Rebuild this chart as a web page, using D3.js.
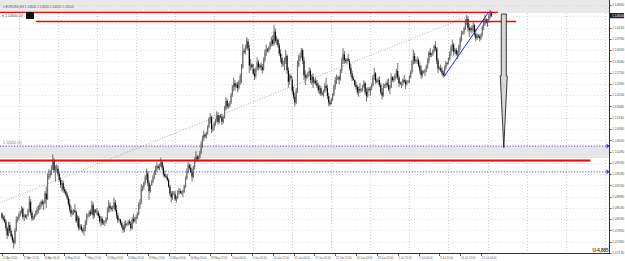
<!DOCTYPE html>
<html><head><meta charset="utf-8">
<script src="https://cdn.jsdelivr.net/npm/d3@7"></script>
<style>
html,body{margin:0;padding:0;background:#fff;overflow:hidden}
svg{display:block;font-family:"Liberation Sans","DejaVu Sans",sans-serif}
</style></head>
<body><svg id="chart" width="625" height="261"></svg>
<script>
// ---------- DATA (EURUSD, H4, from 22 Apr 2020 20:00) ----------
const symbolTitle = "EURUSD,H4";
const headerQuote = ["1.14600", "1.14630", "1.14450", "1.14500"];
const currentPrice = 1.1450;

const timeLabels = ["22 Apr 2020","27 Apr 12:00","30 Apr 04:00","4 May 20:00","7 May 12:00","12 May 04:00",
  "14 May 20:00","19 May 12:00","22 May 04:00","26 May 20:00","29 May 12:00","3 Jun 04:00","5 Jun 20:00",
  "10 Jun 12:00","15 Jun 04:00","17 Jun 20:00","22 Jun 12:00","25 Jun 04:00","29 Jun 20:00","2 Jul 12:00",
  "7 Jul 04:00","9 Jul 20:00","14 Jul 12:00","17 Jul 04:00"];
const barsPerLabel = 16;
const weekStartBars = [13,43,73,103,133,163,193,223,253,283,313,343,373,403,433,463];

const priceTicks = [1.07130,1.07480,1.07830,1.08180,1.08530,1.08880,1.09230,1.09580,1.09930,1.10280,
  1.10630,1.10980,1.11330,1.11680,1.12030,1.12380,1.12730,1.13080,1.13430,1.13780,1.14130,1.14480,1.14830];

const opens = [
 1.0835,
 1.0823,1.0818,1.0810,1.0790,1.0768,1.0800,
 1.0781,1.0765,1.0752,1.0745,1.0783,1.0815,
 1.0822,1.0832,1.0840,1.0851,1.0825,1.0829,
 1.0826,1.0830,1.0845,1.0872,1.0838,1.0820,
 1.0823,1.0830,1.0842,1.0848,1.0855,1.0861,
 1.0872,1.0866,1.0870,1.0898,1.0880,1.0948,
 1.0953,1.0962,1.0978,1.0998,1.0970,1.0975,
 1.0975,1.0958,1.0940,1.0925,1.0930,1.0910,
 1.0905,1.0895,1.0884,1.0866,1.0848,1.0835,
 1.0838,1.0845,1.0840,1.0812,1.0822,1.0790,
 1.0796,1.0785,1.0781,1.0790,1.0808,1.0828,
 1.0830,1.0840,1.0835,1.0862,1.0830,1.0845,
 1.0835,1.0838,1.0828,1.0812,1.0820,1.0805,
 1.0808,1.0810,1.0820,1.0848,1.0860,1.0852,
 1.0850,1.0855,1.0870,1.0846,1.0830,1.0815,
 1.0817,1.0806,1.0795,1.0785,1.0802,1.0800,
 1.0804,1.0810,1.0805,1.0790,1.0818,1.0812,
 1.0820,1.0825,1.0835,1.0862,1.0870,1.0912,
 1.0918,1.0930,1.0948,1.0960,1.0930,1.0905,
 1.0923,1.0935,1.0950,1.0962,1.0975,1.0982,
 1.0977,1.0985,1.0995,1.0978,1.0958,1.0952,
 1.0949,1.0940,1.0920,1.0898,1.0885,1.0898,
 1.0895,1.0880,1.0885,1.0902,1.0905,1.0900,
 1.0900,1.0905,1.0920,1.0945,1.0968,1.0985,
 1.0978,1.0965,1.0950,1.0980,1.1002,1.1012,
 1.1005,1.1010,1.1025,1.1052,1.1068,1.1080,
 1.1075,1.1086,1.1105,1.1128,1.1135,1.1098,
 1.1105,1.1115,1.1125,1.1140,1.1120,1.1138,
 1.1135,1.1120,1.1135,1.1162,1.1185,1.1168,
 1.1170,1.1180,1.1205,1.1228,1.1240,1.1230,
 1.1235,1.1225,1.1245,1.1262,1.1290,1.1340,
 1.1337,1.1350,1.1370,1.1348,1.1295,1.1298,
 1.1285,1.1270,1.1262,1.1285,1.1305,1.1290,
 1.1295,1.1290,1.1282,1.1312,1.1335,1.1345,
 1.1342,1.1350,1.1365,1.1375,1.1362,1.1400,
 1.1372,1.1375,1.1358,1.1332,1.1318,1.1300,
 1.1300,1.1310,1.1325,1.1280,1.1245,1.1262,
 1.1250,1.1215,1.1198,1.1180,1.1215,1.1295,
 1.1319,1.1325,1.1342,1.1310,1.1265,1.1258,
 1.1261,1.1270,1.1278,1.1250,1.1260,1.1242,
 1.1248,1.1240,1.1232,1.1218,1.1225,1.1208,
 1.1205,1.1215,1.1232,1.1225,1.1200,1.1180,
 1.1180,1.1190,1.1205,1.1228,1.1250,1.1255,
 1.1258,1.1252,1.1280,1.1310,1.1330,1.1312,
 1.1309,1.1315,1.1310,1.1288,1.1270,1.1255,
 1.1250,1.1235,1.1228,1.1212,1.1222,1.1218,
 1.1220,1.1230,1.1240,1.1212,1.1200,1.1222,
 1.1215,1.1225,1.1235,1.1258,1.1270,1.1248,
 1.1245,1.1250,1.1235,1.1212,1.1202,1.1230,
 1.1233,1.1240,1.1235,1.1222,1.1228,1.1258,
 1.1250,1.1255,1.1265,1.1278,1.1258,1.1240,
 1.1238,1.1240,1.1250,1.1245,1.1238,1.1245,
 1.1245,1.1260,1.1275,1.1305,1.1325,1.1310,
 1.1308,1.1312,1.1295,1.1280,1.1265,1.1276,
 1.1274,1.1280,1.1292,1.1310,1.1335,1.1328,
 1.1330,1.1340,1.1355,1.1348,1.1310,1.1285,
 1.1287,1.1280,1.1272,1.1265,1.1288,1.1302,
 1.1305,1.1315,1.1335,1.1352,1.1360,1.1338,
 1.1343,1.1330,1.1335,1.1355,1.1378,1.1395,
 1.1398,1.1410,1.1432,1.1440,1.1412,1.1405,
 1.1410,1.1405,1.1420,1.1392,1.1380,1.1388,
 1.1385,1.1380,1.1390,1.1415,1.1425,1.1438,
 1.1420,1.1435,1.1448,1.1460];

const highs = [
 1.0840,
 1.0830,1.0829,1.0817,1.0795,1.0810,1.0808,
 1.0789,1.0772,1.0760,1.0790,1.0827,1.0826,
 1.0838,1.0845,1.0859,1.0855,1.0835,1.0834,
 1.0833,1.0850,1.0890,1.0880,1.0848,1.0829,
 1.0834,1.0846,1.0857,1.0862,1.0870,1.0876,
 1.0880,1.0876,1.0905,1.0920,1.0960,1.0973,
 1.0970,1.0985,1.1019,1.1008,1.0985,1.0988,
 1.0985,1.0962,1.0948,1.0940,1.0938,1.0918,
 1.0912,1.0902,1.0890,1.0880,1.0860,1.0846,
 1.0850,1.0866,1.0845,1.0830,1.0828,1.0802,
 1.0803,1.0792,1.0800,1.0815,1.0836,1.0835,
 1.0845,1.0848,1.0875,1.0870,1.0850,1.0850,
 1.0852,1.0845,1.0835,1.0828,1.0826,1.0815,
 1.0815,1.0825,1.0855,1.0877,1.0870,1.0858,
 1.0860,1.0885,1.0878,1.0862,1.0838,1.0822,
 1.0819,1.0812,1.0800,1.0810,1.0815,1.0808,
 1.0815,1.0818,1.0812,1.0825,1.0835,1.0825,
 1.0830,1.0840,1.0870,1.0880,1.0927,1.0922,
 1.0935,1.0955,1.0975,1.0968,1.0938,1.0925,
 1.0940,1.0955,1.0970,1.0985,1.0995,1.0988,
 1.0990,1.1009,1.1002,1.0985,1.0970,1.0958,
 1.0958,1.0945,1.0925,1.0905,1.0905,1.0906,
 1.0905,1.0890,1.0908,1.0915,1.0912,1.0906,
 1.0910,1.0925,1.0950,1.0975,1.0996,1.0990,
 1.0988,1.0975,1.0985,1.1010,1.1029,1.1018,
 1.1015,1.1030,1.1060,1.1078,1.1092,1.1085,
 1.1090,1.1110,1.1135,1.1147,1.1140,1.1110,
 1.1120,1.1130,1.1153,1.1150,1.1142,1.1145,
 1.1145,1.1140,1.1170,1.1197,1.1192,1.1178,
 1.1185,1.1210,1.1235,1.1257,1.1250,1.1242,
 1.1245,1.1250,1.1270,1.1300,1.1361,1.1348,
 1.1360,1.1383,1.1378,1.1360,1.1315,1.1302,
 1.1300,1.1285,1.1290,1.1320,1.1312,1.1300,
 1.1305,1.1300,1.1320,1.1345,1.1360,1.1350,
 1.1355,1.1370,1.1385,1.1390,1.1422,1.1410,
 1.1387,1.1380,1.1365,1.1345,1.1330,1.1310,
 1.1320,1.1344,1.1330,1.1290,1.1270,1.1268,
 1.1258,1.1230,1.1210,1.1225,1.1310,1.1328,
 1.1335,1.1350,1.1348,1.1322,1.1280,1.1268,
 1.1275,1.1290,1.1285,1.1268,1.1270,1.1252,
 1.1258,1.1250,1.1240,1.1235,1.1232,1.1215,
 1.1220,1.1240,1.1257,1.1235,1.1210,1.1188,
 1.1195,1.1210,1.1235,1.1260,1.1267,1.1262,
 1.1265,1.1285,1.1320,1.1349,1.1340,1.1318,
 1.1320,1.1331,1.1315,1.1300,1.1278,1.1262,
 1.1252,1.1245,1.1235,1.1230,1.1240,1.1225,
 1.1235,1.1249,1.1245,1.1225,1.1228,1.1228,
 1.1230,1.1240,1.1265,1.1288,1.1275,1.1255,
 1.1258,1.1262,1.1242,1.1225,1.1240,1.1238,
 1.1245,1.1252,1.1255,1.1235,1.1270,1.1262,
 1.1262,1.1270,1.1285,1.1303,1.1265,1.1246,
 1.1245,1.1255,1.1266,1.1252,1.1250,1.1250,
 1.1265,1.1280,1.1312,1.1345,1.1335,1.1315,
 1.1323,1.1318,1.1305,1.1295,1.1282,1.1280,
 1.1285,1.1298,1.1318,1.1340,1.1350,1.1335,
 1.1345,1.1360,1.1371,1.1352,1.1318,1.1292,
 1.1298,1.1290,1.1280,1.1295,1.1309,1.1306,
 1.1320,1.1340,1.1360,1.1375,1.1365,1.1348,
 1.1350,1.1342,1.1360,1.1385,1.1403,1.1402,
 1.1415,1.1440,1.1452,1.1448,1.1425,1.1415,
 1.1420,1.1430,1.1425,1.1410,1.1395,1.1392,
 1.1392,1.1395,1.1420,1.1440,1.1453,1.1442,
 1.1440,1.1455,1.1468,1.1463];

const lows = [
 1.0818,
 1.0812,1.0806,1.0782,1.0757,1.0765,1.0775,
 1.0760,1.0745,1.0727,1.0740,1.0780,1.0808,
 1.0815,1.0826,1.0836,1.0818,1.0812,1.0821,
 1.0818,1.0826,1.0840,1.0830,1.0812,1.0814,
 1.0818,1.0826,1.0832,1.0836,1.0846,1.0850,
 1.0860,1.0846,1.0865,1.0852,1.0878,1.0940,
 1.0945,1.0955,1.0970,1.0962,1.0935,1.0968,
 1.0950,1.0935,1.0915,1.0905,1.0900,1.0898,
 1.0890,1.0878,1.0858,1.0840,1.0825,1.0830,
 1.0832,1.0838,1.0806,1.0795,1.0782,1.0785,
 1.0780,1.0775,1.0767,1.0780,1.0800,1.0820,
 1.0825,1.0828,1.0832,1.0819,1.0822,1.0836,
 1.0830,1.0822,1.0805,1.0795,1.0800,1.0800,
 1.0797,1.0805,1.0815,1.0838,1.0840,1.0845,
 1.0842,1.0850,1.0840,1.0820,1.0805,1.0810,
 1.0800,1.0790,1.0775,1.0778,1.0790,1.0796,
 1.0798,1.0800,1.0782,1.0786,1.0805,1.0808,
 1.0805,1.0818,1.0830,1.0850,1.0865,1.0905,
 1.0910,1.0925,1.0940,1.0920,1.0878,1.0900,
 1.0922,1.0930,1.0942,1.0955,1.0966,1.0972,
 1.0970,1.0980,1.0970,1.0950,1.0946,1.0945,
 1.0935,1.0915,1.0890,1.0870,1.0878,1.0892,
 1.0875,1.0870,1.0880,1.0895,1.0896,1.0894,
 1.0887,1.0900,1.0915,1.0940,1.0960,1.0972,
 1.0960,1.0935,1.0945,1.0972,1.0995,1.0998,
 1.0996,1.1005,1.1020,1.1040,1.1060,1.1070,
 1.1068,1.1080,1.1100,1.1115,1.1085,1.1090,
 1.1095,1.1108,1.1118,1.1112,1.1115,1.1130,
 1.1110,1.1115,1.1130,1.1155,1.1160,1.1162,
 1.1165,1.1175,1.1198,1.1215,1.1218,1.1225,
 1.1212,1.1220,1.1235,1.1240,1.1285,1.1330,
 1.1330,1.1345,1.1340,1.1272,1.1280,1.1285,
 1.1265,1.1250,1.1255,1.1280,1.1280,1.1285,
 1.1280,1.1270,1.1278,1.1305,1.1325,1.1336,
 1.1335,1.1345,1.1355,1.1355,1.1358,1.1365,
 1.1360,1.1350,1.1325,1.1305,1.1290,1.1292,
 1.1280,1.1300,1.1270,1.1227,1.1235,1.1250,
 1.1205,1.1190,1.1168,1.1175,1.1210,1.1290,
 1.1310,1.1318,1.1300,1.1250,1.1234,1.1252,
 1.1255,1.1262,1.1240,1.1235,1.1225,1.1238,
 1.1235,1.1225,1.1210,1.1205,1.1200,1.1202,
 1.1198,1.1210,1.1215,1.1190,1.1168,1.1170,
 1.1174,1.1185,1.1200,1.1220,1.1238,1.1250,
 1.1237,1.1248,1.1272,1.1300,1.1300,1.1302,
 1.1300,1.1305,1.1280,1.1260,1.1247,1.1248,
 1.1230,1.1220,1.1205,1.1198,1.1210,1.1212,
 1.1215,1.1225,1.1205,1.1183,1.1195,1.1214,
 1.1201,1.1218,1.1230,1.1250,1.1238,1.1240,
 1.1235,1.1228,1.1205,1.1190,1.1198,1.1225,
 1.1225,1.1228,1.1215,1.1206,1.1225,1.1245,
 1.1242,1.1248,1.1255,1.1250,1.1228,1.1234,
 1.1225,1.1232,1.1240,1.1222,1.1232,1.1240,
 1.1240,1.1255,1.1270,1.1298,1.1300,1.1302,
 1.1300,1.1290,1.1270,1.1253,1.1258,1.1270,
 1.1262,1.1275,1.1285,1.1302,1.1320,1.1322,
 1.1325,1.1335,1.1340,1.1300,1.1272,1.1280,
 1.1275,1.1265,1.1257,1.1260,1.1282,1.1295,
 1.1300,1.1310,1.1325,1.1340,1.1325,1.1332,
 1.1325,1.1316,1.1328,1.1345,1.1370,1.1390,
 1.1392,1.1405,1.1420,1.1400,1.1384,1.1400,
 1.1395,1.1398,1.1385,1.1370,1.1375,1.1380,
 1.1370,1.1375,1.1385,1.1405,1.1418,1.1425,
 1.1415,1.1428,1.1440,1.1445];

const closes = [
 1.0823,
 1.0818,1.0810,1.0790,1.0768,1.0800,1.0781,
 1.0765,1.0752,1.0745,1.0783,1.0815,1.0821,
 1.0832,1.0840,1.0851,1.0825,1.0829,1.0826,
 1.0830,1.0845,1.0872,1.0838,1.0820,1.0823,
 1.0830,1.0842,1.0848,1.0855,1.0861,1.0872,
 1.0866,1.0870,1.0898,1.0880,1.0948,1.0953,
 1.0962,1.0978,1.0998,1.0970,1.0975,1.0980,
 1.0958,1.0940,1.0925,1.0930,1.0910,1.0905,
 1.0895,1.0884,1.0866,1.0848,1.0835,1.0838,
 1.0845,1.0840,1.0812,1.0822,1.0790,1.0796,
 1.0785,1.0781,1.0790,1.0808,1.0828,1.0830,
 1.0840,1.0835,1.0862,1.0830,1.0845,1.0840,
 1.0838,1.0828,1.0812,1.0820,1.0805,1.0808,
 1.0810,1.0820,1.0848,1.0860,1.0852,1.0850,
 1.0855,1.0870,1.0846,1.0830,1.0815,1.0817,
 1.0806,1.0795,1.0785,1.0802,1.0800,1.0804,
 1.0810,1.0805,1.0790,1.0818,1.0812,1.0820,
 1.0825,1.0835,1.0862,1.0870,1.0912,1.0918,
 1.0930,1.0948,1.0960,1.0930,1.0905,1.0923,
 1.0935,1.0950,1.0962,1.0975,1.0982,1.0977,
 1.0985,1.0995,1.0978,1.0958,1.0952,1.0949,
 1.0940,1.0920,1.0898,1.0885,1.0898,1.0900,
 1.0880,1.0885,1.0902,1.0905,1.0900,1.0900,
 1.0905,1.0920,1.0945,1.0968,1.0985,1.0978,
 1.0965,1.0950,1.0980,1.1002,1.1012,1.1005,
 1.1010,1.1025,1.1052,1.1068,1.1080,1.1075,
 1.1086,1.1105,1.1128,1.1135,1.1098,1.1098,
 1.1115,1.1125,1.1140,1.1120,1.1138,1.1135,
 1.1120,1.1135,1.1162,1.1185,1.1168,1.1170,
 1.1180,1.1205,1.1228,1.1240,1.1230,1.1235,
 1.1225,1.1245,1.1262,1.1290,1.1340,1.1337,
 1.1350,1.1370,1.1348,1.1295,1.1298,1.1290,
 1.1270,1.1262,1.1285,1.1305,1.1290,1.1295,
 1.1290,1.1282,1.1312,1.1335,1.1345,1.1342,
 1.1350,1.1365,1.1375,1.1362,1.1400,1.1372,
 1.1375,1.1358,1.1332,1.1318,1.1300,1.1300,
 1.1310,1.1325,1.1280,1.1245,1.1262,1.1256,
 1.1215,1.1198,1.1180,1.1215,1.1295,1.1319,
 1.1325,1.1342,1.1310,1.1265,1.1258,1.1261,
 1.1270,1.1278,1.1250,1.1260,1.1242,1.1248,
 1.1240,1.1232,1.1218,1.1225,1.1208,1.1205,
 1.1215,1.1232,1.1225,1.1200,1.1180,1.1175,
 1.1190,1.1205,1.1228,1.1250,1.1255,1.1258,
 1.1252,1.1280,1.1310,1.1330,1.1312,1.1309,
 1.1315,1.1310,1.1288,1.1270,1.1255,1.1250,
 1.1235,1.1228,1.1212,1.1222,1.1218,1.1220,
 1.1230,1.1240,1.1212,1.1200,1.1222,1.1219,
 1.1225,1.1235,1.1258,1.1270,1.1248,1.1245,
 1.1250,1.1235,1.1212,1.1202,1.1230,1.1233,
 1.1240,1.1235,1.1222,1.1228,1.1258,1.1250,
 1.1255,1.1265,1.1278,1.1258,1.1240,1.1238,
 1.1240,1.1250,1.1245,1.1238,1.1245,1.1247,
 1.1260,1.1275,1.1305,1.1325,1.1310,1.1308,
 1.1312,1.1295,1.1280,1.1265,1.1276,1.1274,
 1.1280,1.1292,1.1310,1.1335,1.1328,1.1330,
 1.1340,1.1355,1.1348,1.1310,1.1285,1.1287,
 1.1280,1.1272,1.1265,1.1288,1.1302,1.1300,
 1.1315,1.1335,1.1352,1.1360,1.1338,1.1343,
 1.1330,1.1335,1.1355,1.1378,1.1395,1.1398,
 1.1410,1.1432,1.1440,1.1412,1.1405,1.1410,
 1.1405,1.1420,1.1392,1.1380,1.1388,1.1385,
 1.1380,1.1390,1.1415,1.1425,1.1438,1.1428,
 1.1435,1.1448,1.1460,1.1450];

// Drawn objects (bar index, price)
const redLevels = [ {price:1.1460, from:-2, to:381}, {price:1.1432, from:26, to:395}, {price:1.1000, from:-2, to:452} ];
const blueDottedLevels = [1.1045, 1.0965];
const grayZone = [1.1008, 1.1045];
const blueTrend = [ {bar:340, price:1.1263}, {bar:374, price:1.1462} ];
const dottedTrend = [ {bar:-2, price:1.0868}, {bar:357, price:1.1446} ];
const downArrow = {bar:385.5, top:1.1455, neck:1.1263, tip:1.1040};
const levelTexts = [ {price:1.1045, text:"1.10450 (0)"} ];

// ---------- DRAWING ----------
const svg = d3.select("#chart");
const plotRight = 609.5, plotBottom = 253.5;
const x = d3.scaleLinear().domain([0, 368]).range([2, 481]);
const y = d3.scaleLinear().domain([1.07130, 1.14830]).range([253, 5]);
const fmt = d3.format(".5f");

// header band
svg.append("rect").attr("x",0).attr("y",0).attr("width",plotRight).attr("height",13).attr("fill","#e9e9e9");

// grid
const grid = svg.append("g");
grid.selectAll("line.h").data(priceTicks).join("line")
  .attr("x1",0).attr("x2",plotRight).attr("y1",d=>Math.round(y(d))+0.5).attr("y2",d=>Math.round(y(d))+0.5)
  .attr("stroke","#c8c8d8").attr("stroke-width",0.6).attr("stroke-dasharray","1,2");
grid.selectAll("line.v").data(weekStartBars.filter(b=>x(b)<plotRight)).join("line")
  .attr("x1",d=>Math.round(x(d))+0.5).attr("x2",d=>Math.round(x(d))+0.5).attr("y1",13).attr("y2",plotBottom)
  .attr("stroke","#b8b8c8").attr("stroke-width",0.7).attr("stroke-dasharray","1,2");

// gray zone
svg.append("rect").attr("x",0).attr("width",plotRight)
  .attr("y",y(grayZone[1])).attr("height",y(grayZone[0])-y(grayZone[1])).attr("fill","#e6e6e6");

// blue dotted levels
blueDottedLevels.forEach(p=>{
  svg.append("line").attr("x1",0).attr("x2",plotRight).attr("y1",y(p)).attr("y2",y(p))
    .attr("stroke","#3a3aff").attr("stroke-width",0.9).attr("stroke-dasharray","1.2,1.6");
  svg.append("path").attr("d",`M${plotRight-3},${y(p)-2.5} L${plotRight},${y(p)} L${plotRight-3},${y(p)+2.5} Z`)
    .attr("fill","#3a3aff");
});
levelTexts.forEach(t=>{
  svg.append("text").attr("x",3).attr("y",y(t.price)-2).attr("font-size",3.6).attr("fill","#777").text(t.text);
});

// dotted trend line
svg.append("line").attr("x1",x(dottedTrend[0].bar)).attr("y1",y(dottedTrend[0].price))
  .attr("x2",x(dottedTrend[1].bar)).attr("y2",y(dottedTrend[1].price))
  .attr("stroke","#8c8c74").attr("stroke-width",0.7).attr("stroke-dasharray","1,1.5");

// candles
const bars = d3.range(closes.length).map(i=>({i, o:opens[i], h:highs[i], l:lows[i], c:closes[i]}));
const cg = svg.append("g");
cg.selectAll("line").data(bars).join("line")
  .attr("x1",d=>x(d.i)).attr("x2",d=>x(d.i)).attr("y1",d=>y(d.h)).attr("y2",d=>y(d.l))
  .attr("stroke","#111").attr("stroke-width",0.6);
cg.selectAll("rect").data(bars).join("rect")
  .attr("x",d=>x(d.i)-0.55).attr("width",1.1)
  .attr("y",d=>y(Math.max(d.o,d.c))).attr("height",d=>Math.max(0.5, Math.abs(y(d.o)-y(d.c))))
  .attr("fill",d=>d.c>=d.o ? "#6e6e6e" : "#000");

// red levels
redLevels.forEach((r,k)=>{
  svg.append("line").attr("x1",Math.max(0,x(r.from))).attr("x2",x(r.to)).attr("y1",y(r.price)).attr("y2",y(r.price))
    .attr("stroke","#ff0000").attr("stroke-width", k===2 ? 2 : 1.4);
});

// blue trend line
svg.append("line").attr("x1",x(blueTrend[0].bar)).attr("y1",y(blueTrend[0].price))
  .attr("x2",x(blueTrend[1].bar)).attr("y2",y(blueTrend[1].price))
  .attr("stroke","#2020ff").attr("stroke-width",1);

// big down arrow
const ax = x(downArrow.bar);
svg.append("path")
  .attr("d",`M${ax-2.5},${y(downArrow.top)} L${ax+2.5},${y(downArrow.top)} L${ax+2.5},${y(downArrow.neck)}
    L${ax+3.5},${y(downArrow.neck)} L${ax},${y(downArrow.tip)} L${ax-3.5},${y(downArrow.neck)} L${ax-2.5},${y(downArrow.neck)} Z`)
  .attr("fill","#d8d8d8").attr("stroke","#222").attr("stroke-width",0.9).attr("stroke-linejoin","round");

// header texts
svg.append("text").attr("x",3).attr("y",7.5).attr("font-size",3.2).attr("fill","#555")
  .text("\u25BE " + symbolTitle + "  " + headerQuote.join(" "));
svg.append("text").attr("x",2).attr("y",17).attr("font-size",3.6).attr("fill","#555")
  .text("\u25BE " + fmt(redLevels[0].price) + " (0)");
svg.append("rect").attr("x",26).attr("y",12).attr("width",8).attr("height",7).attr("fill","#111");

// axes
svg.append("line").attr("x1",plotRight).attr("x2",plotRight).attr("y1",0).attr("y2",plotBottom).attr("stroke","#333").attr("stroke-width",1);
svg.append("line").attr("x1",0).attr("x2",plotRight).attr("y1",plotBottom).attr("y2",plotBottom).attr("stroke","#333").attr("stroke-width",1);

const ra = svg.append("g");
ra.selectAll("line").data(priceTicks).join("line")
  .attr("x1",plotRight).attr("x2",plotRight+2).attr("y1",d=>Math.round(y(d))+0.5).attr("y2",d=>Math.round(y(d))+0.5)
  .attr("stroke","#333").attr("stroke-width",0.8);
ra.selectAll("text").data(priceTicks).join("text")
  .attr("x",plotRight+2.5).attr("y",d=>y(d)+1.3).attr("font-size",3.4).attr("fill","#555").text(d=>fmt(d));

// current price label
svg.append("rect").attr("x",plotRight+0.5).attr("y",y(currentPrice)-2.6).attr("width",14).attr("height",5.2).attr("fill","#222");
svg.append("text").attr("x",plotRight+2.5).attr("y",y(currentPrice)+1.3).attr("font-size",3.4).attr("fill","#fff").text(fmt(currentPrice));

// time axis
const ta = svg.append("g");
ta.selectAll("line").data(timeLabels).join("line")
  .attr("x1",(d,k)=>Math.round(x(k*barsPerLabel))+0.5).attr("x2",(d,k)=>Math.round(x(k*barsPerLabel))+0.5)
  .attr("y1",plotBottom).attr("y2",plotBottom+2.5).attr("stroke","#333").attr("stroke-width",0.8);
ta.selectAll("text").data(timeLabels).join("text")
  .attr("x",(d,k)=>x(k*barsPerLabel)+0.8).attr("y",plotBottom+5).attr("font-size",2.7).attr("fill","#555").text(d=>d);

// corner mark
svg.append("text").attr("x",plotRight-1).attr("y",plotBottom-2).attr("text-anchor","end")
  .attr("font-size",4.5).attr("font-weight","bold").attr("fill","#333").text("U-4,885");
</script></body></html>
